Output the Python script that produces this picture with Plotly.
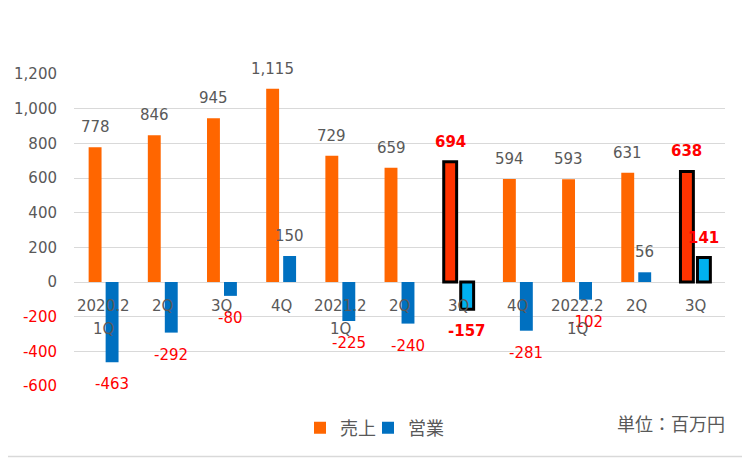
import plotly.graph_objects as go

# ---- data ----
categories = ["2020.2\n1Q", "2Q", "3Q", "4Q", "2021.2\n1Q", "2Q", "3Q", "4Q", "2022.2\n1Q", "2Q", "3Q"]
sales = [778, 846, 945, 1115, 729, 659, 694, 594, 593, 631, 638]
operating = [-463, -292, -80, 150, -225, -240, -157, -281, -102, 56, 141]
highlight = [False, False, False, False, False, False, True, False, False, False, True]
y_ticks = [-600, -400, -200, 0, 200, 400, 600, 800, 1000, 1200]
series_names = ["売上", "営業"]
unit_label = "単位：百万円"

# ---- style ----
# page body has an 8px margin, so the figure is laid out 8px in from the window corner
OFF = 8
W, H = 750 - OFF, 459 - OFF
ML, MR, MT, MB = 74 - OFF, 25, 74 - OFF, 72.5
FONT = "DejaVu Sans, Noto Sans CJK JP, sans-serif"
JFONT = "Noto Sans CJK JP, sans-serif"
GRAY = "#595959"
RED = "#FF0000"
ORANGE, ORANGE_HI = "#FF6600", "#FF3300"
BLUE, BLUE_HI = "#0070C0", "#00B0F0"
FS = 15
JFS = 18

x = list(range(len(categories)))

fig = go.Figure()
fig.add_trace(go.Bar(
    x=x, y=sales, name=series_names[0], legend="legend",
    marker=dict(color=[ORANGE_HI if h else ORANGE for h in highlight],
                line=dict(color="black", width=[3 if h else 0 for h in highlight])),
))
fig.add_trace(go.Bar(
    x=x, y=operating, name=series_names[1], legend="legend2",
    marker=dict(color=[BLUE_HI if h else BLUE for h in highlight],
                line=dict(color="black", width=[3 if h else 0 for h in highlight])),
))

pw = W - ML - MR
ph = H - MT - MB

ann = []
XOFF = 8.5
for i in x:
    for vals, dx in ((sales, -XOFF), (operating, XOFF)):
        v = vals[i]
        col = RED if (v < 0 or highlight[i]) else GRAY
        txt = f"{v:,}"
        if highlight[i]:
            txt = f"<b>{txt}</b>"
        ann.append(dict(x=i, y=v, xref="x", yref="y", text=txt, showarrow=False,
                        xshift=dx, yshift=(20 if v >= 0 else -22), yanchor="middle",
                        font=dict(family=FONT, size=FS, color=col)))
    lines = categories[i].split("\n")
    for k, line in enumerate(lines):
        ann.append(dict(x=i, y=0, xref="x", yref="y", text=line, showarrow=False,
                        yshift=-24 - 23 * k, yanchor="middle",
                        font=dict(family=FONT, size=FS, color=GRAY)))

ann.append(dict(x=(727 - OFF - ML) / pw, y=(H - MB - (424 - OFF)) / ph, xref="paper", yref="paper",
                text=unit_label, showarrow=False, xanchor="right", yanchor="middle",
                font=dict(family=JFONT, size=JFS, color=GRAY)))

# chart-area border (right and bottom edges are visible in the window)
bx1 = 1 + (MR - 3) / pw
by0 = -(MB - 2) / ph
shapes = [
    dict(type="line", xref="paper", yref="paper", x0=bx1, x1=bx1, y0=by0, y1=1 + MT / ph,
         line=dict(color="#D9D9D9", width=1.5), layer="below"),
    dict(type="line", xref="paper", yref="paper", x0=-ML / pw, x1=bx1, y0=by0, y1=by0,
         line=dict(color="#D9D9D9", width=1.5), layer="below"),
]

ticktext = [f"<span style='color:{RED}'>{v:,}</span>" if v < 0 else f"{v:,}" for v in y_ticks]

legend_common = dict(orientation="h", xanchor="left", y=1 - 420 / H, yanchor="middle",
                     xref="container", yref="container", itemwidth=30,
                     font=dict(family=JFONT, size=JFS, color=GRAY), bgcolor="rgba(0,0,0,0)")

fig.update_layout(
    width=W, height=H,
    margin=dict(l=ML, r=MR, t=MT, b=MB, autoexpand=False),
    paper_bgcolor="white", plot_bgcolor="white",
    barmode="group", bargap=0.426, bargroupgap=0.24,
    font=dict(family=FONT, size=FS, color=GRAY),
    xaxis=dict(range=[-0.5, len(categories) - 0.5], showticklabels=False,
               showgrid=False, zeroline=False, fixedrange=True),
    yaxis=dict(range=[-600, 1200], tickvals=y_ticks, ticktext=ticktext,
               gridcolor="#D9D9D9", gridwidth=1, zeroline=True,
               zerolinecolor="#D9D9D9", zerolinewidth=1,
               ticklabelstandoff=16, tickfont=dict(family=FONT, size=FS, color=GRAY)),
    showlegend=True,
    legend=dict(x=292 / W, **legend_common),
    legend2=dict(x=360 / W, **legend_common),
    annotations=ann, shapes=shapes,
)

fig.write_html("out.html")
